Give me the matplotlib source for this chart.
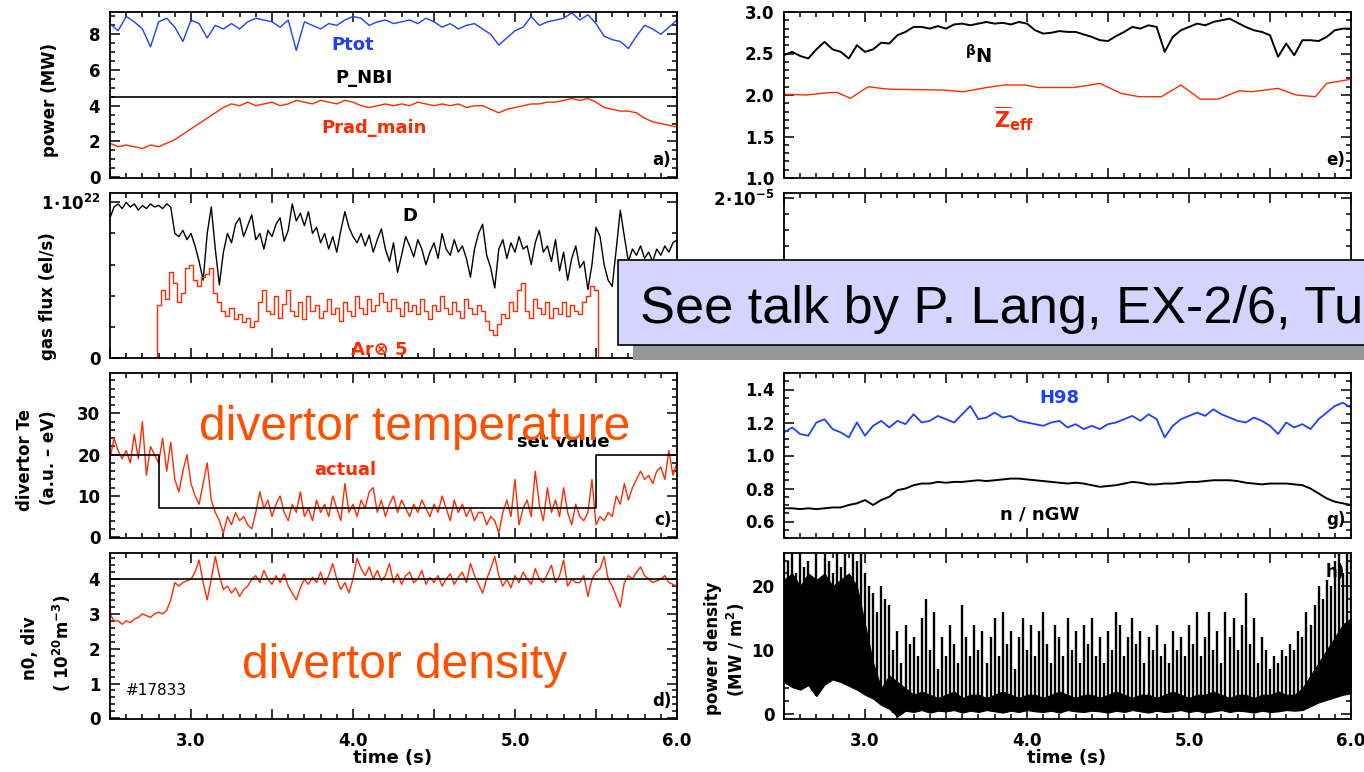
import numpy as np
import matplotlib.pyplot as plt
from matplotlib.ticker import MultipleLocator, FixedLocator, FuncFormatter
from matplotlib.patches import Rectangle

# ---- data (shot #17833) ----
# 0.05 s grid, 2.5 .. 6.0 s
p_tot = [8.6, 8.2, 9.0, 8.7, 8.3, 7.3, 8.7, 8.9, 8.4, 7.6,
         8.8, 8.6, 7.8, 8.5, 8.3, 8.6, 8.3, 8.7, 8.9, 8.8,
         8.7, 8.4, 8.8, 7.1, 8.7, 8.5, 8.3, 8.6, 8.5, 8.8,
         9.0, 8.9, 8.5, 8.7, 8.8, 8.6, 8.7, 8.8, 8.6, 8.9,
         8.7, 8.4, 8.6, 8.3, 8.5, 8.6, 8.3, 8.0, 7.4, 7.8,
         8.2, 8.4, 9.0, 8.5, 8.7, 8.8, 8.9, 9.2, 8.8, 9.1,
         8.6, 7.9, 7.7, 7.6, 7.2, 7.9, 8.5, 8.3, 8.0, 8.4,
         8.8]
p_rad = [1.9, 1.7, 1.8, 1.7, 1.6, 1.8, 1.7, 1.9, 2.1, 2.4,
         2.7, 3.0, 3.3, 3.6, 3.9, 4.1, 4.0, 4.2, 4.0, 4.1,
         4.2, 4.0, 4.1, 4.3, 4.2, 4.1, 4.3, 4.2, 4.1, 4.3,
         4.2, 4.0, 3.9, 4.0, 4.1, 4.0, 4.1, 4.0, 4.2, 4.1,
         4.0, 4.1, 4.0, 4.1, 3.9, 4.0, 4.0, 3.8, 3.6, 3.8,
         3.9, 4.0, 4.1, 4.1, 4.2, 4.2, 4.3, 4.4, 4.3, 4.4,
         4.2, 3.9, 3.8, 3.7, 3.7, 3.6, 3.3, 3.1, 3.0, 2.9,
         2.8]
p_nbi = [4.5, 4.5]

beta_n = [2.48, 2.52, 2.47, 2.44, 2.55, 2.64, 2.55, 2.52, 2.44, 2.60,
          2.52, 2.55, 2.63, 2.62, 2.72, 2.76, 2.82, 2.82, 2.80, 2.83,
          2.80, 2.85, 2.86, 2.84, 2.86, 2.88, 2.86, 2.87, 2.85, 2.88,
          2.86, 2.78, 2.74, 2.75, 2.77, 2.76, 2.76, 2.73, 2.70, 2.66,
          2.65, 2.71, 2.76, 2.82, 2.80, 2.84, 2.82, 2.52, 2.70, 2.78,
          2.82, 2.86, 2.84, 2.88, 2.90, 2.92, 2.87, 2.82, 2.78, 2.76,
          2.72, 2.46, 2.62, 2.48, 2.66, 2.66, 2.65, 2.70, 2.78, 2.80,
          2.80]
h98 = [1.14, 1.17, 1.13, 1.12, 1.20, 1.22, 1.16, 1.14, 1.11, 1.20,
       1.12, 1.18, 1.21, 1.17, 1.21, 1.19, 1.25, 1.20, 1.21, 1.24,
       1.22, 1.20, 1.25, 1.30, 1.22, 1.23, 1.26, 1.23, 1.24, 1.21,
       1.20, 1.19, 1.18, 1.20, 1.21, 1.17, 1.19, 1.16, 1.18, 1.16,
       1.19, 1.20, 1.22, 1.24, 1.21, 1.25, 1.22, 1.11, 1.18, 1.22,
       1.24, 1.26, 1.24, 1.28, 1.25, 1.23, 1.21, 1.20, 1.23, 1.21,
       1.18, 1.13, 1.20, 1.17, 1.19, 1.16, 1.22, 1.26, 1.30, 1.32,
       1.29]
n_gw = [0.68, 0.68, 0.675, 0.68, 0.675, 0.68, 0.685, 0.685, 0.70, 0.71,
        0.73, 0.70, 0.73, 0.75, 0.79, 0.80, 0.82, 0.83, 0.83, 0.84,
        0.835, 0.84, 0.84, 0.845, 0.85, 0.845, 0.85, 0.855, 0.86, 0.86,
        0.855, 0.85, 0.845, 0.84, 0.835, 0.83, 0.835, 0.83, 0.82, 0.81,
        0.815, 0.82, 0.83, 0.84, 0.835, 0.825, 0.825, 0.83, 0.83, 0.835,
        0.84, 0.84, 0.845, 0.85, 0.85, 0.85, 0.845, 0.835, 0.83, 0.825,
        0.83, 0.83, 0.83, 0.825, 0.82, 0.80, 0.77, 0.74, 0.72, 0.71,
        0.70]
h_lo = [5.0, 4.2, 3.8, 4.5, 2.8, 4.6, 5.4, 5.0, 4.4, 3.8,
        3.0, 2.4, 1.4, 0.8, -0.4, 0.5, 0.3, 0.6, 0.2, 0.5,
        0.4, 0.6, 0.2, 0.5, 0.3, 0.6, 0.4, 0.2, 0.5, 0.3,
        0.6, 0.4, 0.3, 0.5, 0.2, 0.6, 0.4, 0.3, 0.5, 0.4,
        0.2, 0.5, 0.3, 0.6, 0.4, 0.2, 0.5, 0.3, 0.4, 0.6,
        0.3, 0.5, 0.2, 0.4, 0.6, 0.3, 0.5, 0.4, 0.2, 0.5,
        0.3, 0.4, 0.6, 0.5, 0.6, 1.2, 1.8, 2.2, 2.6, 3.0,
        3.2]
h_band = [21, 22, 20, 22, 21, 22, 20, 21, 22, 20,
          14, 8, 4, 6, 5, 4, 3, 3.5, 3, 2.5,
          3, 3.5, 2.5, 3, 3, 2.5, 3, 3.5, 3, 2.5,
          3, 3, 2.5, 3, 3.5, 3, 2.5, 3, 3, 2.5,
          3, 3.5, 3, 2.5, 3, 3, 2.5, 3, 3.5, 3,
          2.5, 3, 3, 3.5, 3, 2.5, 3, 3, 2.5, 3,
          3, 3.5, 3, 3, 4, 6, 8, 10, 12, 14,
          15]

# 0.025 s grid, 2.5 .. 6.0 s
gas_d = [0.90, 0.97, 0.99, 0.96, 1.00, 0.97, 0.99, 0.95, 0.98, 0.96,
         0.99, 0.97, 0.98, 0.96, 0.99, 0.97, 0.80, 0.78, 0.82, 0.76,
         0.80, 0.72, 0.62, 0.50, 0.80, 0.97, 0.70, 0.47, 0.68, 0.80,
         0.74, 0.86, 0.90, 0.78, 0.85, 0.92, 0.76, 0.80, 0.70, 0.82,
         0.78, 0.86, 0.90, 0.75, 0.82, 0.99, 0.88, 0.93, 0.85, 0.94,
         0.80, 0.84, 0.74, 0.80, 0.70, 0.78, 0.68, 0.82, 0.94, 0.84,
         0.78, 0.74, 0.80, 0.72, 0.79, 0.68, 0.76, 0.83, 0.70, 0.62,
         0.74, 0.55, 0.66, 0.78, 0.72, 0.65, 0.76, 0.70, 0.60, 0.68,
         0.74, 0.64, 0.80, 0.70, 0.66, 0.76, 0.68, 0.72, 0.64, 0.52,
         0.70, 0.80, 0.86, 0.66, 0.58, 0.45, 0.70, 0.76, 0.64, 0.74,
         0.68, 0.78, 0.70, 0.72, 0.60, 0.74, 0.82, 0.68, 0.72, 0.62,
         0.76, 0.56, 0.68, 0.50, 0.64, 0.72, 0.58, 0.62, 0.44, 0.60,
         0.84, 0.78, 0.60, 0.50, 0.46, 0.70, 0.95, 0.78, 0.62, 0.70,
         0.66, 0.72, 0.64, 0.68, 0.62, 0.70, 0.66, 0.72, 0.68, 0.74,
         0.76]
gas_ar = [0, 0, 0, 0, 0, 0, 0, 0, 0, 0,
          0, 0, 0.34, 0.44, 0.38, 0.55, 0.48, 0.36, 0.42, 0.58,
          0.60, 0.50, 0.46, 0.52, 0.54, 0.58, 0.42, 0.36, 0.30, 0.27,
          0.32, 0.25, 0.28, 0.23, 0.26, 0.20, 0.24, 0.36, 0.44, 0.30,
          0.28, 0.40, 0.26, 0.35, 0.44, 0.30, 0.27, 0.36, 0.25, 0.40,
          0.30, 0.34, 0.26, 0.30, 0.38, 0.28, 0.32, 0.24, 0.36, 0.30,
          0.27, 0.40, 0.32, 0.28, 0.38, 0.30, 0.34, 0.42, 0.36, 0.30,
          0.38, 0.32, 0.27, 0.36, 0.30, 0.34, 0.28, 0.38, 0.30, 0.25,
          0.34, 0.30, 0.40, 0.32, 0.28, 0.36, 0.30, 0.26, 0.38, 0.32,
          0.28, 0.34, 0.30, 0.24, 0.18, 0.15, 0.22, 0.28, 0.26, 0.36,
          0.30, 0.44, 0.48, 0.30, 0.26, 0.38, 0.32, 0.28, 0.36, 0.26,
          0.32, 0.28, 0.36, 0.27, 0.34, 0.30, 0.28, 0.36, 0.40, 0.46,
          0.44, 0, 0, 0, 0, 0, 0, 0, 0, 0,
          0, 0, 0, 0, 0, 0, 0, 0, 0, 0,
          0]
te_div = [19, 24, 21, 19, 21, 18, 25, 19, 28, 15,
          22, 20, 18, 24, 16, 23, 14, 11, 16, 20,
          13, 10, 8, 13, 18, 9, 6, 4, 1, 5,
          3, 6, 4, 5, 3, 2, 6, 11, 7, 9,
          5, 8, 10, 6, 4, 8, 6, 11, 5, 7,
          4, 9, 6, 8, 5, 10, 7, 4, 13, 6,
          8, 5, 9, 7, 11, 12, 6, 9, 5, 8,
          10, 6, 9, 7, 5, 8, 6, 9, 7, 5,
          8, 6, 10, 7, 4, 9, 6, 8, 5, 7,
          4, 6, 6, 3, 5, 4, 1, 6, 9, 5,
          14, 3, 7, 9, 5, 16, 8, 4, 12, 6,
          9, 5, 12, 6, 3, 8, 5, 4, 6, 14,
          3, 5, 4, 6, 5, 10, 8, 13, 9, 12,
          14, 16, 14, 15, 13, 16, 17, 14, 21, 15,
          18]
n0_div = [3.0, 2.8, 2.8, 2.7, 2.8, 2.75, 2.85, 2.9, 3.0, 2.95,
          2.9, 3.0, 3.05, 3.0, 3.1, 3.4, 3.9, 3.8, 3.9, 3.95,
          4.0, 4.2, 4.55, 3.9, 3.4, 4.0, 4.65, 4.1, 3.7, 3.8,
          3.6, 3.75, 3.5, 3.7, 3.8, 4.0, 4.1, 3.9, 4.25, 4.0,
          3.85, 4.1, 3.9, 4.15, 3.8, 3.6, 3.4, 3.75, 4.0, 3.85,
          4.05, 3.9, 4.2, 3.85, 4.1, 4.45, 4.0, 3.7, 3.9, 3.6,
          4.0, 4.6, 4.3, 4.1, 4.35, 4.0, 4.25, 3.95, 4.1, 4.45,
          3.9, 4.15, 3.85, 4.1, 4.2, 3.9, 4.0, 4.25, 3.85, 4.05,
          3.9, 4.1, 3.8, 4.0, 4.15, 3.85, 4.05, 4.2, 3.9, 4.45,
          4.1, 3.85, 3.6, 4.0, 4.3, 4.65, 4.1, 3.8, 4.0, 3.75,
          4.1, 3.9, 4.2, 4.0, 3.85, 4.3, 4.0, 3.9, 4.15, 4.4,
          3.9, 4.1, 4.55, 3.8, 4.0, 3.9, 3.9, 4.1, 3.5, 4.0,
          4.2, 4.3, 4.65, 4.0, 3.8, 3.5, 3.2, 3.9, 4.1, 4.0,
          4.2, 4.35, 4.1, 4.0, 3.9, 3.95, 4.0, 4.1, 3.9, 3.85,
          3.8]
n0_set = [4.0, 4.0]
h_peak = [25, 24, 25, 22, 25, 23, 24, 9, 25, 21,
          25, 24, 22, 25, 23, 25, 12, 25, 24, 25,
          22, 20, 19, 16, 20, 18, 17, 10, 13, 8,
          14, 11, 12, 9, 15, 18, 10, 16, 7, 12,
          9, 14, 11, 8, 17, 12, 9, 14, 10, 13,
          8, 12, 15, 9, 16, 11, 13, 7, 12, 15,
          10, 14, 9, 13, 16, 11, 8, 14, 12, 9,
          15, 10, 13, 8, 14, 11, 15, 9, 12, 8,
          13, 10, 16, 14, 9, 12, 15, 11, 13, 8,
          12, 10, 14, 9, 11, 8, 13, 10, 12, 9,
          14, 11, 16, 9, 12, 16, 10, 13, 8, 16,
          12, 15, 10, 14, 19, 11, 15, 8, 12, 10,
          7, 9, 8, 10, 9, 11, 10, 13, 12, 16,
          14, 17, 20, 18, 21, 20, 24, 25, 22, 25,
          25]

# divertor Te set value (step changes)
te_set_t = [2.5, 2.8, 5.5, 6.0]
te_set = [20, 7, 20, 20]

# Zeff (piecewise from spectroscopy)
zeff_t = [2.5, 2.64, 2.78, 2.83, 2.91, 3.02, 3.10, 3.15, 3.48, 3.61,
          3.75, 3.86, 3.99, 4.07, 4.29, 4.39, 4.45, 4.58, 4.69, 4.83,
          4.95, 5.07, 5.18, 5.31, 5.39, 5.55, 5.66, 5.78, 5.85, 6.0]
zeff = [2.01, 2.0, 2.03, 2.03, 1.96, 2.1, 2.08, 2.07, 2.06, 2.04,
        2.09, 2.12, 2.12, 2.09, 2.09, 2.12, 2.14, 2.02, 1.98, 1.98,
        2.12, 1.95, 1.95, 2.05, 2.04, 2.08, 2.0, 1.98, 2.14, 2.19]

t_edge = [2.5, 6.0]
t_slow = np.linspace(2.5, 6.0, len(p_tot))
t_fast = np.linspace(2.5, 6.0, len(gas_d))

BLUE = '#1f3fff'
RED = '#ff2a00'
ORANGE = '#ff5000'

plt.rcParams['font.family'] = ['DejaVu Sans']
plt.rcParams['font.weight'] = 'bold'
plt.rcParams['font.size'] = 12
plt.rcParams['mathtext.default'] = 'bf'
plt.rcParams['axes.linewidth'] = 1.3

W, H = 1364, 772
fig = plt.figure(figsize=(W / 100, H / 100), dpi=100)


def tfmt(v, pos):
    if v > 2.9 and abs(v - round(v)) < 1e-6:
        return '%.1f' % v
    return ''


def panel(col, row, ylim, ymaj, ymin, yfmt, xlabels=False):
    x0, x1 = [(110, 677), (784, 1351)][col]
    y0, y1 = [(12, 178), (193, 358), (373, 538), (553, 719)][row]
    ax = fig.add_axes([x0 / W, 1 - y1 / H, (x1 - x0) / W, (y1 - y0) / H])
    ax.set_xlim(2.5, 6.0)
    ax.set_ylim(*ylim)
    ax.xaxis.set_major_locator(MultipleLocator(0.5))
    ax.xaxis.set_minor_locator(MultipleLocator(0.1))
    ax.xaxis.set_major_formatter(FuncFormatter(tfmt))
    ax.yaxis.set_major_locator(ymaj)
    ax.yaxis.set_minor_locator(ymin)
    ax.yaxis.set_major_formatter(FuncFormatter(yfmt))
    ax.tick_params(which='both', direction='in', top=True, right=True, width=1.1)
    ax.tick_params(which='major', length=7)
    ax.tick_params(which='minor', length=3.5)
    ax.tick_params(axis='y', pad=7, labelsize=12)
    ax.tick_params(axis='x', pad=9, labelsize=12, labelbottom=xlabels)
    return ax


def panel_tag(ax, s, y=0.11):
    ax.text(0.99, y, s, transform=ax.transAxes, ha='right', va='center', fontsize=12)


int_fmt = lambda v, p: '%d' % round(v)
one_fmt = lambda v, p: '%.1f' % v

# a) power
ax = panel(0, 0, (-0.05, 9.25), MultipleLocator(2), MultipleLocator(0.5), int_fmt)
ax.plot(t_slow, p_tot, color=BLUE, lw=1.0)
ax.plot(t_slow, p_rad, color=RED, lw=1.0)
ax.plot(t_edge, p_nbi, color='black', lw=1.2)
ax.text(4.0, 7.4, 'Ptot', color=BLUE, ha='center', va='center', fontsize=13)
ax.text(4.07, 5.55, 'P_NBI', color='black', ha='center', va='center', fontsize=13)
ax.text(4.13, 2.75, 'Prad_main', color=RED, ha='center', va='center', fontsize=13)
panel_tag(ax, 'a)')

# b) gas flux
ax = panel(0, 1, (0, 1.06e22), FixedLocator([0, 1e22]), MultipleLocator(0.2e22),
           lambda v, p: '0' if v == 0 else r'$1\!\cdot\!10^{22}$')
ax.plot(t_fast, np.array(gas_d) * 1e22, color='black', lw=1.0)
ax.step(t_fast, np.array(gas_ar) * 1e22, where='mid', color=RED, lw=1.0)
ax.text(4.35, 0.91e22, 'D', color='black', ha='center', va='center', fontsize=13)
ax.text(4.16, 0.05e22, 'Ar\u2297 5', color=RED, ha='center', va='center', fontsize=13)

# c) divertor Te
ax = panel(0, 2, (-0.2, 39.8), MultipleLocator(10), MultipleLocator(2), int_fmt)
ax.plot(t_fast, te_div, color=RED, lw=1.0)
ax.step(te_set_t, te_set, where='post', color='black', lw=1.2)
ax.text(3.95, 16.3, 'actual', color=RED, ha='center', va='center', fontsize=13)
# partly hidden under the big caption, as in the original slide
ax.text(5.3, 23.0, 'set value', color='black', ha='center', va='center', fontsize=13)
ax.text(4.38, 23.5, 'divertor temperature', color=ORANGE, fontsize=34.5,
        family='Liberation Sans', weight='normal', ha='center', va='baseline', zorder=5)
panel_tag(ax, 'c)')

# d) divertor density
ax = panel(0, 3, (-0.02, 4.75), MultipleLocator(1), MultipleLocator(0.2), int_fmt, xlabels=True)
ax.plot(t_fast, n0_div, color=RED, lw=1.0)
ax.plot(t_edge, n0_set, color='black', lw=1.2)
ax.text(2.6, 0.8, '#17833', color='black', ha='left', va='center', fontsize=11, weight='normal')
ax.text(4.32, 1.17, 'divertor density', color=ORANGE, fontsize=34.5,
        family='Liberation Sans', weight='normal', ha='center', va='baseline', zorder=5)
panel_tag(ax, 'd)')

# e) beta_N, Zeff
ax = panel(1, 0, (1.0, 3.0), MultipleLocator(0.5), MultipleLocator(0.1), one_fmt)
ax.plot(t_slow, beta_n, color='black', lw=1.4)
ax.plot(zeff_t, zeff, color=RED, lw=1.0)
ax.text(3.7, 2.47, r'$^{\beta}$N', color='black', ha='center', va='center', fontsize=14)
ax.text(3.92, 1.72, r'$\overline{Z}_{eff}$', color=RED, ha='center', va='center', fontsize=15)
panel_tag(ax, 'e)')

# f) hidden behind the box
ax = panel(1, 1, (0, 2.06e-5), FixedLocator([1e-5, 2e-5]), MultipleLocator(0.2e-5),
           lambda v, p: r'$2\!\cdot\!10^{-5}$' if v > 1.5e-5 else '')

# g) H98, n/nGW
ax = panel(1, 2, (0.5, 1.5), MultipleLocator(0.2), MultipleLocator(0.05), one_fmt)
ax.plot(t_slow, h98, color=BLUE, lw=1.3)
ax.plot(t_slow, n_gw, color='black', lw=1.4)
ax.text(4.2, 1.35, 'H98', color=BLUE, ha='center', va='center', fontsize=13)
ax.text(4.08, 0.64, 'n / nGW', color='black', ha='center', va='center', fontsize=13)
panel_tag(ax, 'g)')

# h) divertor power density
ax = panel(1, 3, (-0.8, 25.2), MultipleLocator(10), MultipleLocator(2), int_fmt, xlabels=True)
ax.fill_between(t_slow, h_lo, h_band, color='black', lw=0.8)
ax.vlines(t_fast, np.interp(t_fast, t_slow, h_lo), h_peak, color='black', lw=1.7)
panel_tag(ax, 'h)', y=0.885)


# axis titles
def ylab(x, y, s):
    fig.text(x / W, 1 - y / H, s, rotation=90, ha='center', va='center', fontsize=12)


ylab(50, 100, 'power (MW)')
ylab(48, 296, 'gas flux (el/s)')
ylab(25, 460, 'divertor Te')
ylab(49, 458, '(a.u. \u2013 eV)')
ylab(30, 648, 'n0, div')
ylab(62, 643, r'( 10$^{20}$m$^{-3}$)')
ylab(713, 648, 'power density')
ylab(736, 650, r'(MW / m$^{2}$)')
fig.text(393 / W, 1 - 758 / H, 'time (s)', ha='center', va='center', fontsize=13)
fig.text(1067 / W, 1 - 758 / H, 'time (s)', ha='center', va='center', fontsize=13)

# overlay note
fig.add_artist(Rectangle((633 / W, 1 - 360 / H), (W + 50 - 633) / W, 85 / H,
                         transform=fig.transFigure, facecolor='#979797',
                         edgecolor='none', zorder=20))
fig.add_artist(Rectangle((618 / W, 1 - 345 / H), (W + 50 - 618) / W, 85 / H,
                         transform=fig.transFigure, facecolor='#d4d4ff',
                         edgecolor='black', lw=1.2, zorder=21))
fig.text(640 / W, 1 - 323 / H, 'See talk by P. Lang, EX-2/6, Tu', fontsize=37.7,
         family='Liberation Sans', weight='normal', color='black',
         ha='left', va='baseline', zorder=22)

fig.savefig('out.png', dpi=100)
